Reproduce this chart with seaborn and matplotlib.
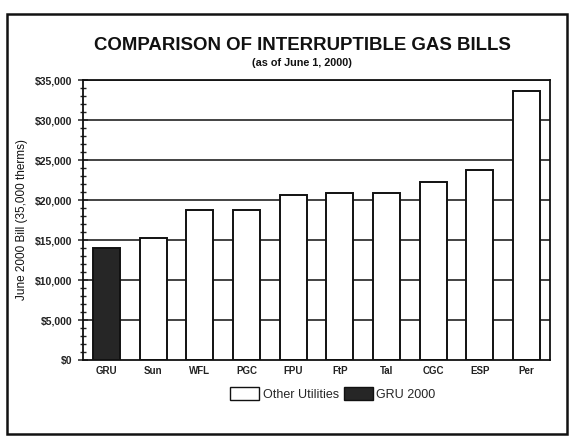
import matplotlib
matplotlib.use("Agg")
import matplotlib.pyplot as plt
import seaborn as sns
import pandas as pd
from matplotlib.patches import Rectangle, Patch
from matplotlib.ticker import MultipleLocator, FuncFormatter

utilities = ["GRU", "Sun", "WFL", "PGC", "FPU", "FtP", "Tal", "CGC", "ESP", "Per"]
bills = [14050, 15200, 18700, 18800, 20600, 20900, 20900, 22200, 23700, 33600]
groups = ["GRU 2000", "Other Utilities", "Other Utilities", "Other Utilities", "Other Utilities",
          "Other Utilities", "Other Utilities", "Other Utilities", "Other Utilities", "Other Utilities"]
colors = {"Other Utilities": "#ffffff", "GRU 2000": "#262626"}

df = pd.DataFrame({"utility": utilities, "bill": bills, "group": groups})

sns.set_theme(style="white")
plt.rcParams["font.family"] = ["Liberation Sans", "DejaVu Sans"]

fig = plt.figure(figsize=(5.79, 4.37), dpi=100)
W, H = 579, 437
ax = fig.add_axes([83 / W, 1 - 360 / H, (550 - 83) / W, (360 - 80) / H])

for y in range(5000, 35001, 5000):
    ax.axhline(y, color="#222222", lw=1.2, zorder=0)

sns.barplot(data=df, x="utility", y="bill", hue="group", dodge=False, palette=colors,
            edgecolor="#111111", linewidth=1.4, width=0.58, legend=False, ax=ax, zorder=2)

ax.set_ylim(0, 35000)
ax.set_xlim(-0.5, len(utilities) - 0.5)
ax.yaxis.set_major_locator(MultipleLocator(5000))
ax.yaxis.set_minor_locator(MultipleLocator(1000))
ax.yaxis.set_major_formatter(FuncFormatter(lambda v, p: f"${v:,.0f}"))
ax.set_xticks(range(len(utilities)))
ax.set_xticklabels(utilities)
ax.set_xticks([i + 0.5 for i in range(len(utilities) - 1)], minor=True)
ax.tick_params(axis="x", which="major", length=0, pad=4, labelsize=7, colors="#222222")
ax.tick_params(axis="x", which="minor", direction="inout", length=7, width=1.1, color="#222222")
ax.tick_params(axis="y", which="major", direction="inout", length=7, width=1.1, labelsize=7.5,
               color="#222222", labelcolor="#222222", pad=4, left=True)
ax.tick_params(axis="y", which="minor", direction="inout", length=4, width=1.0, color="#222222", left=True)
for lab in ax.get_xticklabels() + ax.get_yticklabels():
    lab.set_fontweight("bold")
ax.set_xlabel("")
ax.set_ylabel("June 2000 Bill (35,000 therms)", fontsize=8.5, color="#111111", labelpad=5,
              fontweight="medium")
for s in ax.spines.values():
    s.set_color("#111111")
    s.set_linewidth(1.3)
    s.set_visible(True)

handles = [Patch(facecolor=colors["Other Utilities"], edgecolor="#111111", label="Other Utilities"),
           Patch(facecolor=colors["GRU 2000"], edgecolor="#111111", label="GRU 2000")]
fig.legend(handles=handles, loc="center", bbox_to_anchor=(333 / W, 1 - 394 / H), ncol=2,
           frameon=False, fontsize=9, handlelength=2.3, handleheight=1.2, columnspacing=0.4,
           handletextpad=0.3)

fig.text(302 / W, 1 - 45 / H, "COMPARISON OF INTERRUPTIBLE GAS BILLS", ha="center", va="center",
         fontsize=13.4, fontweight="bold", color="#111111")
fig.text(302 / W, 1 - 63 / H, "(as of June 1, 2000)", ha="center", va="center",
         fontsize=7.8, fontweight="bold", color="#111111")

fig.patches.append(Rectangle((7 / W, 1 - 434 / H), (567 - 7) / W, (434 - 14) / H,
                             transform=fig.transFigure, fill=False, edgecolor="#111111", lw=1.8))

fig.savefig("out.png", dpi=100, facecolor="white")
